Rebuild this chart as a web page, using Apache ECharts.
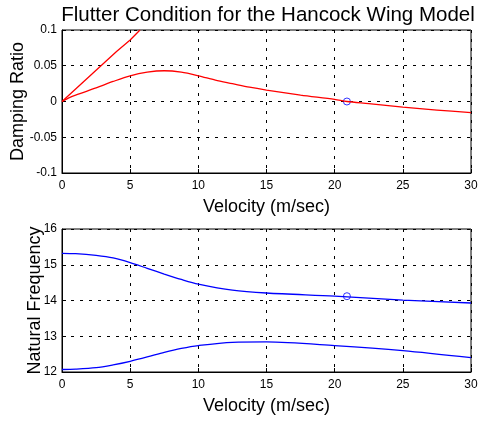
<!DOCTYPE html>
<html>
<head>
<meta charset="utf-8">
<script src="https://cdn.jsdelivr.net/npm/echarts@6/dist/echarts.min.js"></script>
<style>
  html, body { margin: 0; padding: 0; background: #fff; }
  #chart { width: 478px; height: 425px; }
</style>
</head>
<body>
<div id="chart"></div>
<script>
// damping ratio, two modes
var velA = [0, 1, 2, 3, 4, 5, 5.72];
var dampA = [0, 0.0175, 0.035, 0.0525, 0.070, 0.086, 0.1];
var velB = [0, 0.5, 1, 2.5, 3.75, 5, 6.25, 7.5, 8.75, 10, 11.25, 12.5, 13.75, 15, 17.5, 20, 20.9, 22.5, 25, 27.5, 30];
var dampB = [0, 0.005, 0.009, 0.019, 0.028, 0.036, 0.041, 0.043, 0.041, 0.036, 0.030, 0.025, 0.020, 0.016, 0.009, 0.003, 0, -0.003, -0.008, -0.012, -0.0155];

// natural frequency, two modes
var velF = [0, 1, 2.5, 3.75, 5, 6.25, 7.5, 8.75, 10, 12.5, 15, 20, 25, 30];
var freqHigh = [15.32, 15.31, 15.26, 15.19, 15.06, 14.90, 14.74, 14.59, 14.46, 14.29, 14.21, 14.12, 14.01, 13.93];
var freqLow = [12.07, 12.08, 12.12, 12.20, 12.30, 12.42, 12.55, 12.66, 12.74, 12.83, 12.84, 12.74, 12.60, 12.40];

// flutter point
var flutterVel = 20.9;
var flutterDamp = 0;
var flutterFreq = 14.12;

function pairs(xs, ys) {
    return xs.map(function(x, i) { return [x, ys[i]]; });
}

var font = 'Liberation Sans, Arial, sans-serif';
var gridLine = { show: true, lineStyle: { color: '#000', type: [3, 6], width: 1 } };

function xAxis(idx) {
    return {
        type: 'value', gridIndex: idx, min: 0, max: 30, interval: 5,
        name: 'Velocity (m/sec)', nameLocation: 'middle', nameGap: 25, nameMoveOverlap: false,
        nameTextStyle: { fontFamily: font, fontSize: 18, color: '#000' },
        axisLine: { show: true, onZero: false, lineStyle: { color: '#000' } },
        axisTick: { show: true, inside: true, length: 4, lineStyle: { color: '#000' } },
        axisLabel: { fontFamily: font, fontSize: 12, color: '#000', margin: 7 },
        splitLine: gridLine
    };
}

function yAxis(idx, min, max, interval, name, gap, fmt) {
    return {
        type: 'value', gridIndex: idx, min: min, max: max, interval: interval,
        name: name, nameLocation: 'middle', nameGap: gap, nameRotate: 90, nameMoveOverlap: false,
        nameTextStyle: { fontFamily: font, fontSize: 18, color: '#000' },
        axisLine: { show: true, onZero: false, lineStyle: { color: '#000' } },
        axisTick: { show: true, inside: true, length: 4, lineStyle: { color: '#000' } },
        axisLabel: { fontFamily: font, fontSize: 12, color: '#000', margin: 5, formatter: fmt },
        splitLine: gridLine
    };
}

var chart = echarts.init(document.getElementById('chart'));
chart.setOption({
    animation: false,
    title: {
        text: 'Flutter Condition for the Hancock Wing Model',
        left: 263, top: 0, textAlign: 'center',
        textStyle: { fontFamily: font, fontSize: 20.5, fontWeight: 'normal', color: '#000' }
    },
    grid: [
        { left: 62, top: 30, width: 409, height: 143, show: true, borderColor: '#000', borderWidth: 1, outerBoundsMode: 'none' },
        { left: 62, top: 229, width: 409, height: 143, show: true, borderColor: '#000', borderWidth: 1, outerBoundsMode: 'none' }
    ],
    xAxis: [xAxis(0), xAxis(1)],
    yAxis: [
        yAxis(0, -0.1, 0.1, 0.05, 'Damping Ratio', 35, function(v) { return String(Math.round(v * 100) / 100); }),
        yAxis(1, 12, 16, 1, 'Natural Frequency', 18)
    ],
    series: [
        { type: 'line', xAxisIndex: 0, yAxisIndex: 0, data: pairs(velA, dampA), showSymbol: false,
          lineStyle: { color: '#ff0000', width: 1.3 } },
        { type: 'line', xAxisIndex: 0, yAxisIndex: 0, data: pairs(velB, dampB), smooth: 0.3, showSymbol: false,
          lineStyle: { color: '#ff0000', width: 1.3 } },
        { type: 'scatter', xAxisIndex: 0, yAxisIndex: 0, data: [[flutterVel, flutterDamp]], symbol: 'circle', symbolSize: 7,
          itemStyle: { color: 'transparent', borderColor: '#0000ff', borderWidth: 1 } },
        { type: 'line', xAxisIndex: 1, yAxisIndex: 1, data: pairs(velF, freqHigh), smooth: 0.3, showSymbol: false,
          lineStyle: { color: '#0000ff', width: 1.3 } },
        { type: 'line', xAxisIndex: 1, yAxisIndex: 1, data: pairs(velF, freqLow), smooth: 0.3, showSymbol: false,
          lineStyle: { color: '#0000ff', width: 1.3 } },
        { type: 'scatter', xAxisIndex: 1, yAxisIndex: 1, data: [[flutterVel, flutterFreq]], symbol: 'circle', symbolSize: 7,
          itemStyle: { color: 'transparent', borderColor: '#0000ff', borderWidth: 1 } }
    ]
});
</script>
</body>
</html>
